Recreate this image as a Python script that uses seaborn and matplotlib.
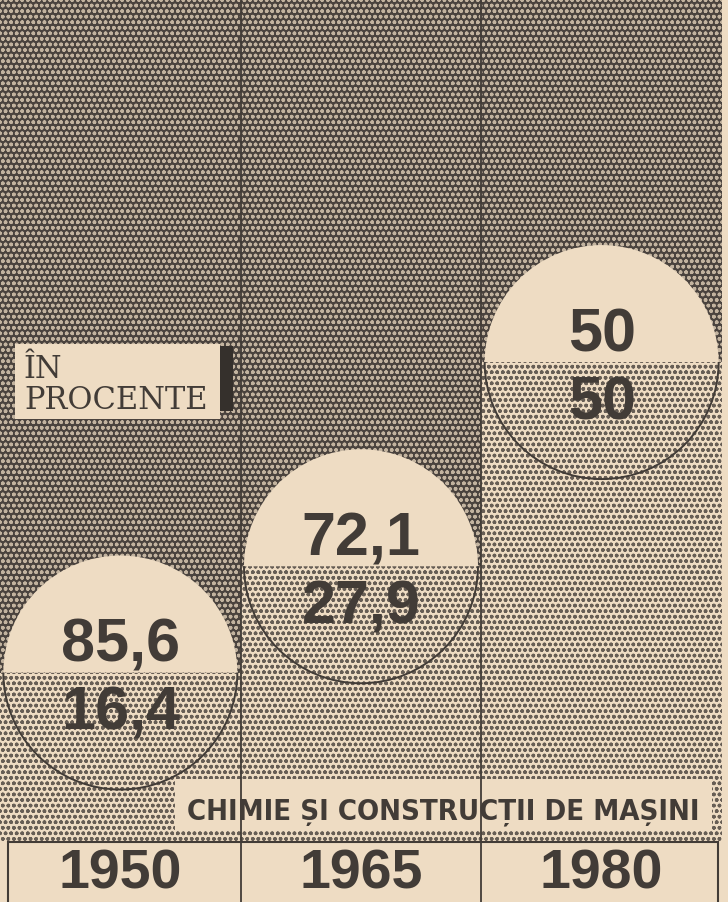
import matplotlib
matplotlib.use("Agg")
import matplotlib.pyplot as plt
import matplotlib.transforms as mtransforms
from matplotlib.patches import Wedge, Arc, Rectangle
from matplotlib.lines import Line2D
from matplotlib import font_manager
import pandas as pd
import seaborn as sns

# ---- data ----
years = ["1950", "1965", "1980"]
other_share = [85.6, 72.1, 50]          # upper (dark) part
chem_share = [16.4, 27.9, 50]           # lower (light) part: chimie si constructii de masini
top_labels = ["85,6", "72,1", "50"]
bottom_labels = ["16,4", "27,9", "50"]
unit_label = "ÎN\nPROCENTE"
series_label = "CHIMIE ȘI CONSTRUCȚII DE MAȘINI"

df = pd.DataFrame({"year": years, "chem": chem_share, "other": other_share})
df["total"] = df["chem"] + df["other"]

# ---- style ----
PAPER = "#eedcc3"
DARK = "#4a433e"
DOT_LIGHT = "#c2b39f"
DOT_DARK = "#675e55"
INK = "#423c37"

sns.set_theme(style="white")
plt.rcParams["font.family"] = ["Liberation Sans", "DejaVu Sans"]
plt.rcParams["hatch.linewidth"] = 1.05

W, H = 728, 903
fig = plt.figure(figsize=(W / 100, H / 100), dpi=100, facecolor=PAPER)
ax = fig.add_axes([0, (H - 843) / H, 722 / W, 843 / H])
ax.set_facecolor(PAPER)

# light dotted ground below the bars
ax.add_patch(Rectangle((0, 0), 1, 1, transform=ax.transAxes, facecolor=PAPER,
                       edgecolor=DOT_DARK, hatch="ooo", lw=0, zorder=0.2))

sns.barplot(data=df, x="year", y="total", color=DARK, saturation=1, width=1.0,
            ax=ax, zorder=1)
sns.barplot(data=df, x="year", y="chem", color=PAPER, saturation=1, width=1.0,
            ax=ax, zorder=1.5)
for k, p in enumerate(ax.patches[1:]):
    p.set_hatch("ooo")
    p.set_edgecolor(DOT_LIGHT if k < 3 else DOT_DARK)
    p.set_linewidth(0)

ax.set_xlim(-0.5, 2.5)
ax.set_ylim(-1.94, 89.29)
for s in ax.spines.values():
    s.set_visible(False)
ax.set_yticks([])
ax.set_xlabel("")
ax.set_ylabel("")
ax.set_xticks(range(len(years)))
ax.set_xticklabels(years, fontsize=40, fontweight="bold", color=INK,
                   family=["Liberation Sans", "DejaVu Sans"])
ax.tick_params(axis="x", length=0, pad=4)

# circles centred on the split of each column
r_in = 1.17
for i, v in enumerate(chem_share):
    trans = fig.dpi_scale_trans + mtransforms.ScaledTranslation(i, v, ax.transData)
    ax.add_patch(Wedge((0, 0), r_in, 0, 180, transform=trans, facecolor=PAPER,
                       edgecolor="none", zorder=3))
    ax.add_patch(Arc((0, 0), 2 * r_in, 2 * r_in, theta1=180, theta2=360,
                     transform=trans, color=INK, lw=1.4, zorder=3))
    ax.annotate(top_labels[i], (i, v), xytext=(0, 12 * 0.72), textcoords="offset points",
                ha="center", va="baseline", fontsize=44, fontweight="bold",
                color=INK, zorder=4)
    ax.annotate(bottom_labels[i], (i, v), xytext=(0, -56 * 0.72), textcoords="offset points",
                ha="center", va="baseline", fontsize=44, fontweight="bold",
                color=INK, zorder=4)

# column dividers (through the whole height)
blend = mtransforms.blended_transform_factory(ax.transData, fig.transFigure)
for xd in [0.5, 1.5]:
    fig.add_artist(Line2D([xd, xd], [0, 1], transform=blend, color=INK, lw=1.3, zorder=6))

# year row frame
fig.add_artist(Rectangle((8 / W, -0.02), 710 / W, (903 - 843) / H + 0.02,
                         transform=fig.transFigure, facecolor="none",
                         edgecolor=INK, lw=1.5, zorder=6))

# "ÎN PROCENTE" box
fig.add_artist(Rectangle((15 / W, 1 - 420 / H), 205 / W, 75 / H,
                         transform=fig.transFigure, facecolor=PAPER,
                         edgecolor="none", zorder=5))
fig.add_artist(Rectangle((220 / W, 1 - 412 / H), 13 / W, 65 / H,
                         transform=fig.transFigure, facecolor="#35302c",
                         edgecolor="none", zorder=5))
fig.text(24 / W, 1 - 409 / H, unit_label, family=["DejaVu Serif"], fontsize=22,
         color=INK, ha="left", va="baseline", linespacing=0.98, zorder=7)

# series label box
fig.add_artist(Rectangle((175 / W, 1 - 832 / H), 537 / W, 52 / H,
                         transform=fig.transFigure, facecolor=PAPER,
                         edgecolor="none", zorder=5))
names = {f.name for f in font_manager.fontManager.ttflist}
if "Liberation Sans Narrow" in names:
    fam, fs, stretch = ["Liberation Sans Narrow", "DejaVu Sans"], 26, "normal"
else:
    fam, fs, stretch = ["DejaVu Sans"], 21, "condensed"
fig.text(443 / W, 1 - 819 / H, series_label, family=fam, fontsize=fs, fontstretch=stretch,
         fontweight="bold", color=INK, ha="center", va="baseline", zorder=7)

fig.savefig("out.png", dpi=100, facecolor=PAPER)
